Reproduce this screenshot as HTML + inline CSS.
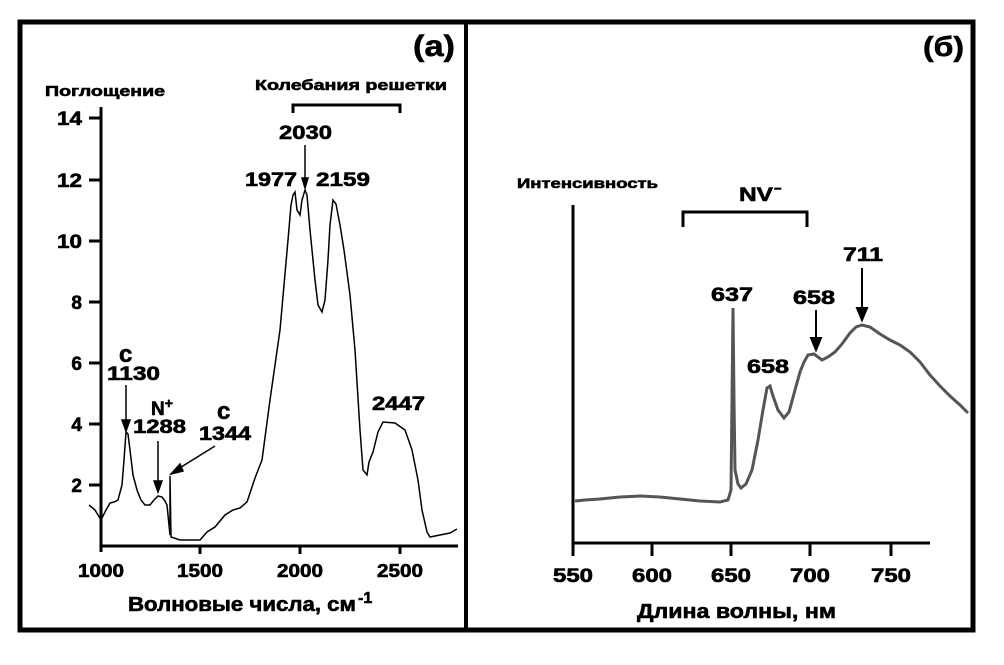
<!DOCTYPE html>
<html><head><meta charset="utf-8"><style>
body{margin:0;background:#fff}
svg text{font-family:"Liberation Sans","DejaVu Sans",sans-serif;font-weight:bold;fill:#000;stroke:#000;stroke-width:0.6}
</style></head><body>
<svg width="1004" height="660" viewBox="0 0 1004 660" xmlns="http://www.w3.org/2000/svg">
<rect x="0" y="0" width="1004" height="660" fill="#fff"/>
<rect x="20" y="22" width="953" height="608" fill="none" stroke="#000" stroke-width="5"/>
<line x1="466" y1="22" x2="466" y2="630" stroke="#000" stroke-width="4"/>

<!-- Left panel -->
<g stroke="#000" stroke-width="3" fill="none">
<line x1="101" y1="107" x2="101" y2="552"/>
<line x1="101" y1="546" x2="458" y2="546"/>
<line x1="89" y1="118" x2="101" y2="118"/><line x1="89" y1="180" x2="101" y2="180"/>
<line x1="89" y1="241" x2="101" y2="241"/><line x1="89" y1="302" x2="101" y2="302"/>
<line x1="89" y1="363" x2="101" y2="363"/><line x1="89" y1="424" x2="101" y2="424"/>
<line x1="89" y1="485" x2="101" y2="485"/>
<line x1="200" y1="546" x2="200" y2="554"/><line x1="300" y1="546" x2="300" y2="554"/><line x1="400" y1="546" x2="400" y2="554"/>
</g>
<g font-size="19" text-anchor="end">
<text x="82" y="125" textLength="25" lengthAdjust="spacingAndGlyphs">14</text><text x="82" y="187" textLength="25" lengthAdjust="spacingAndGlyphs">12</text><text x="82" y="248" textLength="25" lengthAdjust="spacingAndGlyphs">10</text>
<text x="82" y="309">8</text><text x="82" y="370">6</text><text x="82" y="431">4</text><text x="82" y="492">2</text>
</g>
<g font-size="18" text-anchor="middle">
<text x="101" y="577" textLength="46" lengthAdjust="spacingAndGlyphs">1000</text><text x="200" y="577" textLength="46" lengthAdjust="spacingAndGlyphs">1500</text><text x="300" y="577" textLength="46" lengthAdjust="spacingAndGlyphs">2000</text><text x="400" y="577" textLength="46" lengthAdjust="spacingAndGlyphs">2500</text>
</g>
<text x="128" y="611" font-size="20" textLength="228" lengthAdjust="spacingAndGlyphs">Волновые числа, см</text>
<text x="358" y="603" font-size="16">-1</text>
<text x="45" y="96" font-size="15" textLength="120" lengthAdjust="spacingAndGlyphs">Поглощение</text>
<text x="255" y="90" font-size="15" textLength="192" lengthAdjust="spacingAndGlyphs">Колебания решетки</text>
<polyline points="293,113 293,105 400,105 400,113" fill="none" stroke="#000" stroke-width="3"/>
<text x="455" y="56" font-size="30" text-anchor="end" textLength="42" lengthAdjust="spacingAndGlyphs">(а)</text>
<polyline fill="none" stroke="#000" stroke-width="1.5" points="89,505 95,510 101,520 106,510 110,503 114,502 118,500 122,485 124,460 126,432 128,434 130,450 133,475 137,490 141,500 145,505 150,505 154,500 158,496 162,497 165,501 167,505 169,525 170,535 170,476 171,537 180,540 190,540 200,540 207,532 215,527 225,515 233,510 240,508 247,502 255,478 262,460 266,430 270,400 275,365 280,330 284,285 288,240 291,205 293,195 295,192 297,210 300,215 302,200 305,190 307,195 310,230 315,280 318,305 322,312 325,300 328,260 330,225 333,200 336,204 340,225 344,250 350,295 355,350 360,430 363,470 367,475 369,462 373,452 378,432 383,422 395,423 405,430 412,450 418,480 422,510 427,532 430,537 440,535 450,533 457,529"/>
<g font-size="19">
<text x="119" y="362" font-size="24">с</text>
<text x="107" y="380" textLength="53" lengthAdjust="spacingAndGlyphs">1130</text>
<text x="151" y="415">N<tspan dy="-7" font-size="14">+</tspan></text>
<text x="133" y="433" textLength="53" lengthAdjust="spacingAndGlyphs">1288</text>
<text x="217" y="419" font-size="24">с</text>
<text x="199" y="440" textLength="52" lengthAdjust="spacingAndGlyphs">1344</text>
<text x="279" y="139" textLength="53" lengthAdjust="spacingAndGlyphs">2030</text>
<text x="245" y="186" textLength="52" lengthAdjust="spacingAndGlyphs">1977</text>
<text x="316" y="186" textLength="54" lengthAdjust="spacingAndGlyphs">2159</text>
<text x="372" y="410" textLength="53" lengthAdjust="spacingAndGlyphs">2447</text>
</g>
<g stroke="#000" stroke-width="1.5" fill="#000">
<line x1="126" y1="385" x2="126" y2="424"/><polygon points="122,420 130,420 126,431"/>
<line x1="158" y1="441" x2="158" y2="484"/><polygon points="154,481 162,481 158,492"/>
<line x1="215" y1="446" x2="178" y2="469"/><polygon points="171,474 180,464 183,471"/>
<line x1="305" y1="145" x2="305" y2="180"/><polygon points="302,178 308,178 305,188"/>
</g>

<!-- Right panel -->
<g stroke="#000" stroke-width="3" fill="none">
<line x1="573" y1="205" x2="573" y2="545"/>
<line x1="573" y1="543" x2="930" y2="543"/>
<line x1="573" y1="543" x2="573" y2="556"/><line x1="652" y1="543" x2="652" y2="556"/>
<line x1="731" y1="543" x2="731" y2="556"/><line x1="810" y1="543" x2="810" y2="556"/>
<line x1="891" y1="543" x2="891" y2="556"/>
</g>
<g font-size="19" text-anchor="middle">
<text x="573" y="582" textLength="40" lengthAdjust="spacingAndGlyphs">550</text><text x="652" y="582" textLength="40" lengthAdjust="spacingAndGlyphs">600</text><text x="731" y="582" textLength="40" lengthAdjust="spacingAndGlyphs">650</text><text x="810" y="582" textLength="40" lengthAdjust="spacingAndGlyphs">700</text><text x="891" y="582" textLength="40" lengthAdjust="spacingAndGlyphs">750</text>
</g>
<text x="637" y="618" font-size="20" textLength="199" lengthAdjust="spacingAndGlyphs">Длина волны, нм</text>
<text x="517" y="188" font-size="14" textLength="141" lengthAdjust="spacingAndGlyphs">Интенсивность</text>
<text x="739" y="201" font-size="19" textLength="34" lengthAdjust="spacingAndGlyphs">NV</text>
<text x="774" y="193" font-size="13">−</text>
<polyline points="683,227 683,212 807,212 807,227" fill="none" stroke="#000" stroke-width="3"/>
<text x="964" y="56" font-size="28" text-anchor="end" textLength="41" lengthAdjust="spacingAndGlyphs">(б)</text>
<polyline fill="none" stroke="#555" stroke-width="3" points="575,501 585,500 600,499 620,497 640,496 660,497 680,499 700,501 720,502 728,500 731,490 732,400 733,308 734,400 735,470 738,484 741,488 746,484 752,470 758,440 763,410 767,388 770,386 773,396 778,410 784,418 789,412 795,390 800,372 804,362 808,355 814,354 818,357 822,360 828,357 835,352 842,344 850,333 856,327 862,325 870,327 880,334 890,340 900,345 910,352 920,362 930,375 940,386 950,396 960,405 968,413"/>
<g font-size="19">
<text x="711" y="301" textLength="42" lengthAdjust="spacingAndGlyphs">637</text>
<text x="747" y="373" textLength="42" lengthAdjust="spacingAndGlyphs">658</text>
<text x="793" y="304" textLength="42" lengthAdjust="spacingAndGlyphs">658</text>
<text x="843" y="261" textLength="40" lengthAdjust="spacingAndGlyphs">711</text>
</g>
<g stroke="#000" stroke-width="2" fill="#000">
<line x1="816" y1="310" x2="816" y2="340"/><polygon points="811,338 821,338 816,350"/>
<line x1="862" y1="268" x2="862" y2="310"/><polygon points="857,308 867,308 862,320"/>
</g>
</svg>
</body></html>
